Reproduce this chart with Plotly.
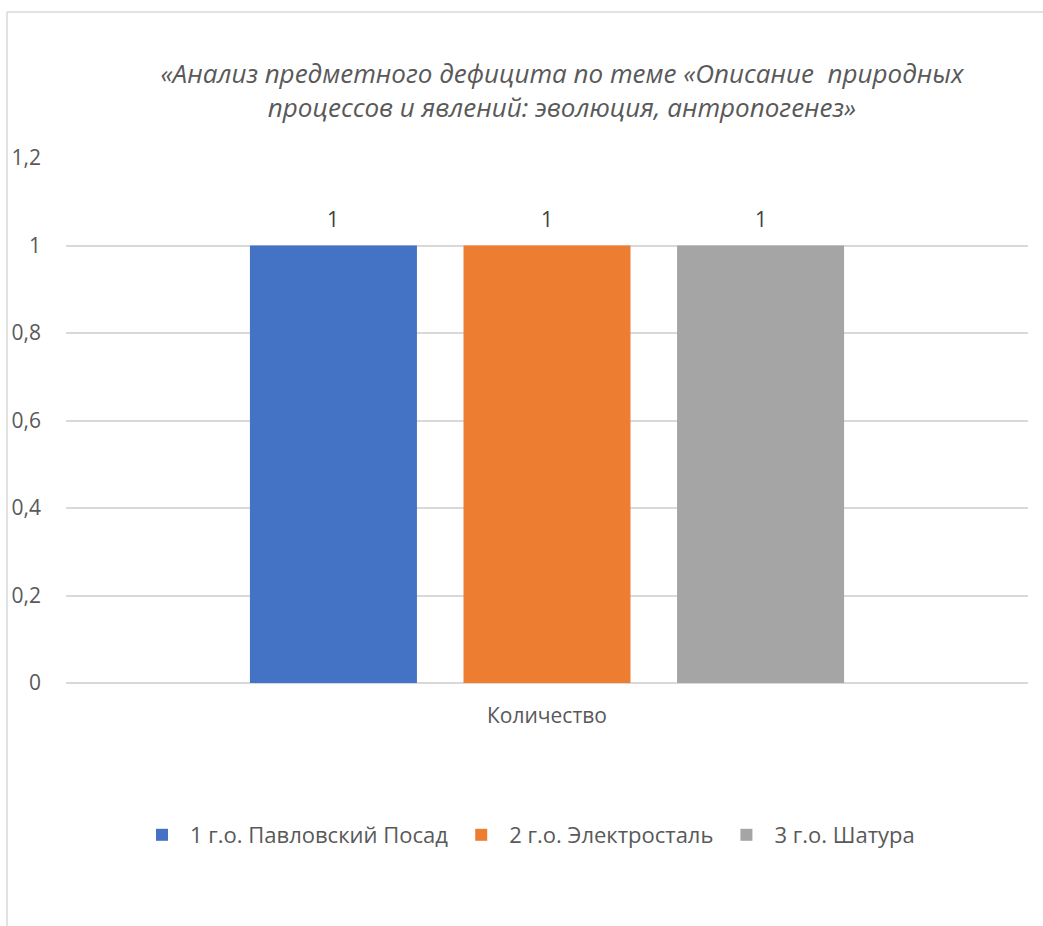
import plotly.graph_objects as go

categories = ["Количество"]
series_names = ["1 г.о. Павловский Посад", "2 г.о. Электросталь", "3 г.о. Шатура"]
series_values = [[1], [1], [1]]
series_colors = ["#4472C4", "#ED7D31", "#A5A5A5"]
title_lines = ["«Анализ предметного дефицита по теме «Описание  природных",
               "процессов и явлений: эволюция, антропогенез»"]

W, H = 1043, 926
L, R, T, B = 66, 15, 158, 243
pw, ph = W - L - R, H - T - B

def px_x(px):
    return (px - L) / pw

def px_y(py):
    return (H - B - py) / ph

font_family = "Open Sans, Noto Sans, sans-serif"
txt_color = "#595959"
BARGAP, GROUPGAP = 0.334, 0.218

fig = go.Figure()
for name, vals, col in zip(series_names, series_values, series_colors):
    fig.add_trace(go.Bar(
        x=categories, y=vals, name=name,
        marker=dict(color=col, line=dict(width=0)),
        cliponaxis=False,
    ))

# data labels above each bar (positions derived from the group layout)
n = len(series_names)
slot = (1 - BARGAP) / n
annotations = []
for i, vals in enumerate(series_values):
    for j, v in enumerate(vals):
        annotations.append(dict(
            x=j - (1 - BARGAP) / 2 + slot * (i + 0.5), y=v,
            xref="x", yref="y", text=str(v).replace(".", ","),
            showarrow=False, yanchor="bottom", yshift=11,
            font=dict(size=21, color="#404040", family=font_family),
        ))

fig.update_layout(
    width=W, height=H,
    margin=dict(l=L, r=R, t=T, b=B, autoexpand=False),
    paper_bgcolor="white", plot_bgcolor="white",
    separators=", ",
    barmode="group", bargap=BARGAP, bargroupgap=GROUPGAP,
    font=dict(family=font_family, color=txt_color, size=21),
    title=dict(
        text="<i>" + "<br>".join(title_lines) + "</i>",
        x=px_x(562), xref="paper", xanchor="center",
        y=1 - 83 / H, yref="container", yanchor="middle",
        font=dict(size=26, color=txt_color, family=font_family),
    ),
    showlegend=True,
    legend=dict(
        orientation="h", x=px_x(527), xanchor="center",
        y=px_y(835), yanchor="middle",
        font=dict(size=22, color=txt_color, family=font_family),
        traceorder="normal", itemwidth=46,
    ),
    annotations=annotations,
    yaxis=dict(
        range=[0, 1.2], dtick=0.2, tick0=0,
        showgrid=True, gridcolor="#D9D9D9", gridwidth=1.5,
        zeroline=True, zerolinecolor="#D9D9D9", zerolinewidth=1.5,
        showline=False, ticks="", ticklabelstandoff=24,
        tickfont=dict(size=21, color=txt_color, family=font_family),
    ),
    xaxis=dict(
        range=[-0.5, 0.5],
        showgrid=False, showline=False, ticks="", ticklabelstandoff=18,
        tickfont=dict(size=21, color=txt_color, family=font_family),
    ),
    shapes=[
        dict(type="line", xref="paper", yref="paper",
             x0=px_x(7), x1=px_x(1050), y0=px_y(12), y1=px_y(12),
             line=dict(color="#D9D9D9", width=1.5)),
        dict(type="line", xref="paper", yref="paper",
             x0=px_x(7), x1=px_x(7), y0=px_y(12), y1=px_y(930),
             line=dict(color="#D9D9D9", width=1.5)),
    ],
)

fig.write_html("out.html", config={"displayModeBar": False},
               post_script="document.body.style.margin='0';")
